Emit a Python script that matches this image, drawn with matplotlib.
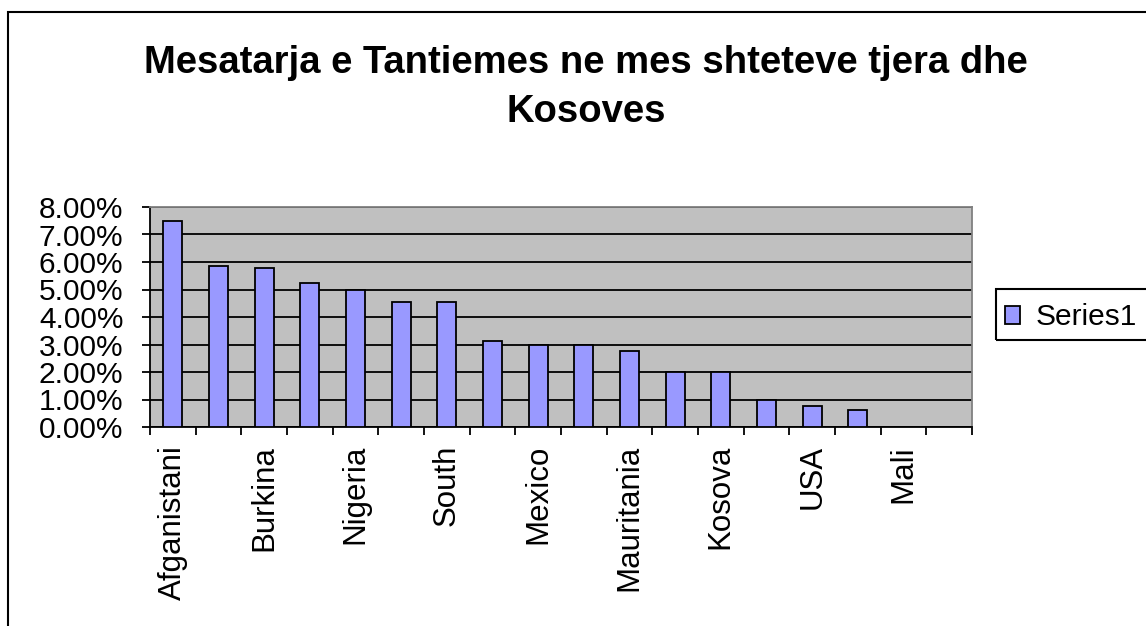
import matplotlib
matplotlib.use("Agg")
import matplotlib.pyplot as plt
import matplotlib.patches as mpatches
import numpy as np

# 18 categories, only every other one is labelled in the original chart
categories = ["Afganistani", "", "Burkina", "", "Nigeria", "", "South", "",
              "Mexico", "", "Mauritania", "", "Kosova", "", "USA", "", "Mali", ""]
values = [7.50, 5.85, 5.77, 5.23, 5.00, 4.55, 4.55, 3.13, 3.00,
          3.00, 2.78, 2.00, 2.00, 0.97, 0.78, 0.62, 0.0, 0.0]
yticks = [0, 1, 2, 3, 4, 5, 6, 7, 8]
series_name = "Series1"
title = "Mesatarja e Tantiemes ne mes shteteve tjera dhe\nKosoves"

plt.rcParams['font.family'] = ['Liberation Sans', 'DejaVu Sans']

fig = plt.figure(figsize=(11.46, 6.26), dpi=100)
W, H = 1146, 626
ax = fig.add_axes([150 / W, 1 - 427 / H, (972 - 150) / W, (427 - 207) / H])

x = np.arange(len(categories))
ax.bar(x, values, width=0.42, color='#9999FF', edgecolor='black',
       linewidth=1.3, label=series_name, zorder=3)

ax.set_facecolor('#C0C0C0')
ax.set_xlim(-0.5, len(categories) - 0.5)
ax.set_ylim(0, 8)
ax.set_yticks(yticks)
ax.set_yticklabels([f"{v:.2f}%" for v in yticks], fontsize=21.5)
ax.yaxis.grid(True, color='black', linewidth=1.3, zorder=1)
ax.set_axisbelow(True)

ax.set_xticks(x)
ax.set_xticklabels(categories, rotation=90, fontsize=22.5, va='top')
ax.set_xticks(np.arange(-0.5, len(categories)), minor=True)
ax.tick_params(axis='x', which='major', length=0, pad=13)
ax.tick_params(axis='x', which='minor', length=6, width=1.3, direction='out')
ax.tick_params(axis='y', length=6, width=1.3, direction='out', pad=13)

for s in ['top', 'right']:
    ax.spines[s].set_color('#808080')
    ax.spines[s].set_linewidth(1.3)
for s in ['left', 'bottom']:
    ax.spines[s].set_color('black')
    ax.spines[s].set_linewidth(1.3)

# baseline of a multi-line text refers to its last line
fig.text(586 / W, 1 - 122 / H, title, ha='center', va='baseline',
         fontsize=27.5, fontweight='bold', linespacing=1.45)

# legend without its own frame; the box runs off the right edge as in the original
leg = fig.legend(loc='upper left', bbox_to_anchor=(998 / W, 1 - 296 / H),
                 fontsize=21.5, frameon=False, borderpad=0.25,
                 handlelength=0.5, handleheight=0.55, handletextpad=0.5,
                 borderaxespad=0)
fig.patches.append(mpatches.Rectangle((996 / W, 1 - 340 / H), 0.2, 51 / H,
                                      transform=fig.transFigure, fill=False,
                                      edgecolor='black', linewidth=1.5))

# outer chart border, cut off at the right and bottom like the original
fig.patches.append(mpatches.Rectangle((8 / W, -0.1), 1.2, 1 - 12 / H + 0.1,
                                      transform=fig.transFigure, fill=False,
                                      edgecolor='black', linewidth=1.5))

fig.savefig("out.png", dpi=100)
